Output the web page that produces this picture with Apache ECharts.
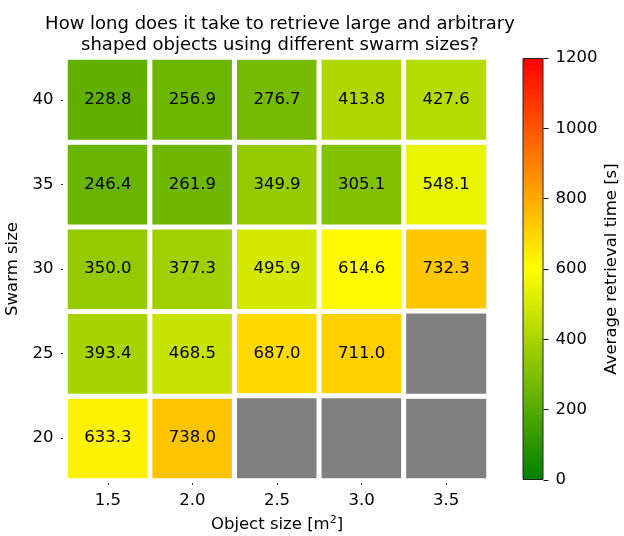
<!DOCTYPE html>
<html><head><meta charset="utf-8">
<script src="https://cdn.jsdelivr.net/npm/echarts@6/dist/echarts.min.js"></script>
<style>html,body{margin:0;padding:0;background:#fff}#c{width:624px;height:536px}</style>
</head><body><div id="c"></div>
<script>
const objectSizes = ['1.5', '2.0', '2.5', '3.0', '3.5'];
const swarmSizes = ['20', '25', '30', '35', '40'];
// rows by swarm size (20..40), columns by object size (1.5..3.5); null = no data
const times20 = [633.3, 738.0, null, null, null];
const times25 = [393.4, 468.5, 687.0, 711.0, null];
const times30 = [350.0, 377.3, 495.9, 614.6, 732.3];
const times35 = [246.4, 261.9, 349.9, 305.1, 548.1];
const times40 = [228.8, 256.9, 276.7, 413.8, 427.6];
const colorbarMin = 0, colorbarMax = 1200, colorbarStep = 200;
const titleText = 'How long does it take to retrieve large and arbitrary\nshaped objects using different swarm sizes?';

const rows = [times20, times25, times30, times35, times40];
const valueData = [], missingData = [];
rows.forEach((r, yi) => r.forEach((v, xi) => {
  if (v === null) missingData.push([xi, yi, 0]);
  else valueData.push([xi, yi, v]);
}));

const font = 'DejaVu Sans';
const fs = 16.5;
const chart = echarts.init(document.getElementById('c'), null, {renderer: 'canvas'});
chart.setOption({
  backgroundColor: '#fff',
  animation: false,
  textStyle: {fontFamily: font},
  title: {
    text: titleText, left: 275, top: 9, textAlign: 'center',
    textStyle: {fontFamily: font, fontSize: 18, fontWeight: 'normal', color: '#000', lineHeight: 21}
  },
  grid: [
    {left: 65.5, top: 57.5, width: 423, height: 423, containLabel: false, outerBoundsMode: 'none'},
    {left: 522.5, top: 58, width: 21, height: 422, containLabel: false, outerBoundsMode: 'none'}
  ],
  xAxis: [
    {type: 'category', gridIndex: 0, data: objectSizes,
     name: 'Object size [m{s|2}]', nameLocation: 'middle', nameGap: 34,
     nameTextStyle: {fontFamily: font, fontSize: fs, color: '#000', rich: {s: {fontSize: 11, verticalAlign: 'top', padding: [0,0,9,0], fontFamily: font, color:'#000'}}},
     axisLine: {show: false},
     axisTick: {show: true, alignWithLabel: true, length: 4.5, lineStyle: {color: '#111'}},
     axisLabel: {fontFamily: font, fontSize: fs, color: '#000', margin: 12},
     splitLine: {show: false}},
    {type: 'category', gridIndex: 1, data: ['cb'], show: false}
  ],
  yAxis: [
    {type: 'category', gridIndex: 0, data: swarmSizes,
     name: 'Swarm size', nameLocation: 'middle', nameGap: 41, nameRotate: 90,
     nameTextStyle: {fontFamily: font, fontSize: fs, color: '#000'},
     axisLine: {show: false},
     axisTick: {show: true, alignWithLabel: true, length: 4.5, lineStyle: {color: '#111'}},
     axisLabel: {fontFamily: font, fontSize: fs, color: '#000', margin: 12},
     splitLine: {show: false}},
    {type: 'value', gridIndex: 1, position: 'right', min: colorbarMin, max: colorbarMax, interval: colorbarStep,
     name: 'Average retrieval time [s]', nameLocation: 'middle', nameGap: 60, nameRotate: 90,
     nameTextStyle: {fontFamily: font, fontSize: fs, color: '#000'},
     axisLine: {show: false},
     axisTick: {show: true, length: 5, lineStyle: {color: '#111'}},
     axisLabel: {fontFamily: font, fontSize: fs, color: '#000', margin: 12, formatter: v => String(v)},
     splitLine: {show: false}}
  ],
  visualMap: {
    show: false, seriesIndex: 0, type: 'continuous', min: colorbarMin, max: colorbarMax,
    inRange: {color: ['#008000', '#ffff00', '#ff0000']}
  },
  series: [
    {type: 'heatmap', xAxisIndex: 0, yAxisIndex: 0, data: valueData,
     itemStyle: {borderColor: '#fff', borderWidth: 5},
     label: {show: true, fontFamily: font, fontSize: fs, color: '#000',
       formatter: p => p.value[2].toFixed(1)},
     emphasis: {disabled: true}},
    {type: 'heatmap', xAxisIndex: 0, yAxisIndex: 0, data: missingData,
     itemStyle: {color: '#808080', borderColor: '#fff', borderWidth: 5},
     label: {show: false}, emphasis: {disabled: true}},
    {type: 'bar', xAxisIndex: 1, yAxisIndex: 1, data: [colorbarMax], barWidth: '100%',
     itemStyle: {
       color: new echarts.graphic.LinearGradient(0, 1, 0, 0, [
         {offset: 0, color: '#008000'}, {offset: 0.5, color: '#ffff00'}, {offset: 1, color: '#ff0000'}
       ]),
       borderColor: '#222', borderWidth: 1
     },
     emphasis: {disabled: true}}
  ]
});
</script></body></html>
